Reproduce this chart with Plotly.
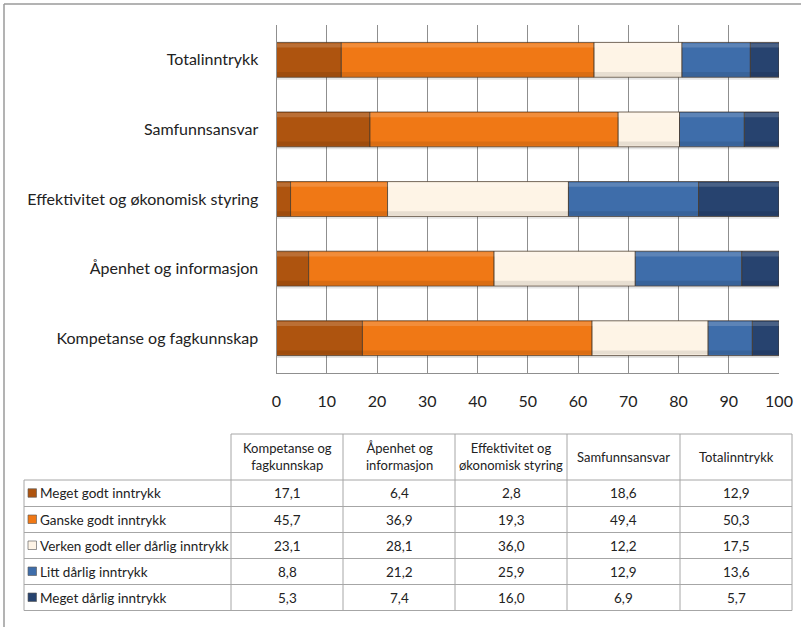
import plotly.graph_objects as go

# Survey areas (bottom to top on the chart, left to right in the table)
categories = [
    "Kompetanse og fagkunnskap",
    "Åpenhet og informasjon",
    "Effektivitet og økonomisk styring",
    "Samfunnsansvar",
    "Totalinntrykk",
]
table_headers = [
    "Kompetanse og<br>fagkunnskap",
    "Åpenhet og<br>informasjon",
    "Effektivitet og<br>økonomisk styring",
    "Samfunnsansvar",
    "Totalinntrykk",
]

# Response shares (%) per answer option, one value per area
series_names = [
    "Meget godt inntrykk",
    "Ganske godt inntrykk",
    "Verken godt eller dårlig inntrykk",
    "Litt dårlig inntrykk",
    "Meget dårlig inntrykk",
]
meget_godt = [17.1, 6.4, 2.8, 18.6, 12.9]
ganske_godt = [45.7, 36.9, 19.3, 49.4, 50.3]
verken = [23.1, 28.1, 36.0, 12.2, 17.5]
litt_darlig = [8.8, 21.2, 25.9, 12.9, 13.6]
meget_darlig = [5.3, 7.4, 16.0, 6.9, 5.7]
series_values = [meget_godt, ganske_godt, verken, litt_darlig, meget_darlig]

x_ticks = [0, 10, 20, 30, 40, 50, 60, 70, 80, 90, 100]

colors = ["#AE540F", "#F07815", "#FEF4E6", "#3E6DAA", "#27436F"]

W, H = 801, 627
FONT = "Lato, Carlito, Calibri, sans-serif"


def px(x):
    return x / W


def py(y):
    return 1 - y / H


# cumulative start of each stacked segment
bases = []
running = [0.0] * len(categories)
for vals in series_values:
    bases.append(list(running))
    running = [r + v for r, v in zip(running, vals)]

BAR_W = 0.5

fig = go.Figure()

# soft shadow under each bar row
fig.add_trace(go.Bar(
    y=categories, x=running, base=[0] * len(categories), orientation="h",
    width=0.05, offset=-BAR_W / 2 - 0.035,
    marker=dict(color="rgba(0,0,0,0.10)", line=dict(width=0)),
    showlegend=False, hoverinfo="skip",
))

for name, vals, base, col in zip(series_names, series_values, bases, colors):
    fig.add_trace(go.Bar(
        y=categories, x=vals, base=base, name=name, orientation="h",
        width=BAR_W, offset=-BAR_W / 2,
        marker=dict(color=col, line=dict(color="rgba(70,55,40,0.75)", width=1)),
        showlegend=False,
    ))
    # bevel: light band along the top edge, darker band along the bottom
    fig.add_trace(go.Bar(
        y=categories, x=vals, base=base, orientation="h",
        width=0.06, offset=BAR_W / 2 - 0.075,
        marker=dict(color="rgba(255,255,255,0.16)", line=dict(width=0)),
        showlegend=False, hoverinfo="skip",
    ))
    fig.add_trace(go.Bar(
        y=categories, x=vals, base=base, orientation="h",
        width=0.06, offset=-BAR_W / 2 + 0.015,
        marker=dict(color="rgba(0,0,0,0.09)", line=dict(width=0)),
        showlegend=False, hoverinfo="skip",
    ))

shapes = []
annotations = []

# Outer chart frame (top and left edges inside the page)
frame = dict(color="#9a9a9a", width=1.5)
shapes.append(dict(type="line", xref="paper", yref="paper",
                   x0=px(4), x1=1, y0=py(4), y1=py(4), line=frame))
shapes.append(dict(type="line", xref="paper", yref="paper",
                   x0=px(4), x1=px(4), y0=py(4), y1=0, line=frame))

# Data table
col_edges = [24, 231, 343, 455, 567, 680, 792]
row_edges = [434, 480, 506.5, 532.5, 558.5, 584.5, 610.5]
line_col = "#a6a6a6"

shapes.append(dict(type="line", xref="paper", yref="paper",
                   x0=px(col_edges[1]), x1=px(col_edges[-1]),
                   y0=py(row_edges[0]), y1=py(row_edges[0]),
                   line=dict(color=line_col, width=1)))
for ry in row_edges[1:]:
    shapes.append(dict(type="line", xref="paper", yref="paper",
                       x0=px(col_edges[0]), x1=px(col_edges[-1]),
                       y0=py(ry), y1=py(ry),
                       line=dict(color=line_col, width=1)))
shapes.append(dict(type="line", xref="paper", yref="paper",
                   x0=px(col_edges[0]), x1=px(col_edges[0]),
                   y0=py(row_edges[1]), y1=py(row_edges[-1]),
                   line=dict(color=line_col, width=1)))
for cx in col_edges[1:]:
    shapes.append(dict(type="line", xref="paper", yref="paper",
                       x0=px(cx), x1=px(cx),
                       y0=py(row_edges[0]), y1=py(row_edges[-1]),
                       line=dict(color=line_col, width=1)))

for j, head in enumerate(table_headers):
    cx = (col_edges[j + 1] + col_edges[j + 2]) / 2
    cy = (row_edges[0] + row_edges[1]) / 2
    annotations.append(dict(xref="paper", yref="paper", x=px(cx), y=py(cy),
                            text=head, showarrow=False, xanchor="center",
                            yanchor="middle", align="center",
                            font=dict(family=FONT, size=13, color="#222")))

for i, (name, vals, col) in enumerate(zip(series_names, series_values, colors)):
    cy = (row_edges[i + 1] + row_edges[i + 2]) / 2
    shapes.append(dict(type="rect", xref="paper", yref="paper",
                       x0=px(28), x1=px(36.5), y0=py(cy + 4), y1=py(cy - 4.5),
                       fillcolor=col, line=dict(color="rgba(90,90,90,0.8)", width=0.8)))
    annotations.append(dict(xref="paper", yref="paper", x=px(37.5), y=py(cy),
                            text=name, showarrow=False, xanchor="left",
                            yanchor="middle",
                            font=dict(family=FONT, size=13.5, color="#222")))
    for j, v in enumerate(vals):
        cx = (col_edges[j + 1] + col_edges[j + 2]) / 2
        annotations.append(dict(xref="paper", yref="paper", x=px(cx), y=py(cy),
                                text=f"{v:.1f}".replace(".", ","), showarrow=False,
                                xanchor="center", yanchor="middle",
                                font=dict(family=FONT, size=13.5, color="#222")))

fig.update_layout(
    width=W, height=H, autosize=False,
    margin=dict(l=0, r=0, t=0, b=0, pad=0, autoexpand=False),
    paper_bgcolor="white",
    plot_bgcolor="white",
    barmode="overlay",
    shapes=shapes,
    annotations=annotations,
    font=dict(family=FONT, size=16, color="#222"),
    xaxis=dict(
        domain=[px(276.5), px(779)],
        range=[0, 100],
        tickvals=x_ticks,
        automargin=False,
        showgrid=True, gridcolor="#8f8f8f", gridwidth=1,
        showline=True, linecolor="#8f8f8f", linewidth=1,
        zeroline=False,
        ticks="", ticklabelstandoff=14,
        tickfont=dict(family=FONT, size=16, color="#222"),
        fixedrange=True,
    ),
    yaxis=dict(
        domain=[py(373), py(25)],
        categoryorder="array", categoryarray=categories,
        range=[-0.5, len(categories) - 0.5],
        automargin=False,
        showgrid=False,
        showline=True, linecolor="#8f8f8f", linewidth=1,
        ticks="", ticklabelstandoff=14,
        tickfont=dict(family=FONT, size=16, color="#222"),
        fixedrange=True,
    ),
)

fig.write_html("out.html")
